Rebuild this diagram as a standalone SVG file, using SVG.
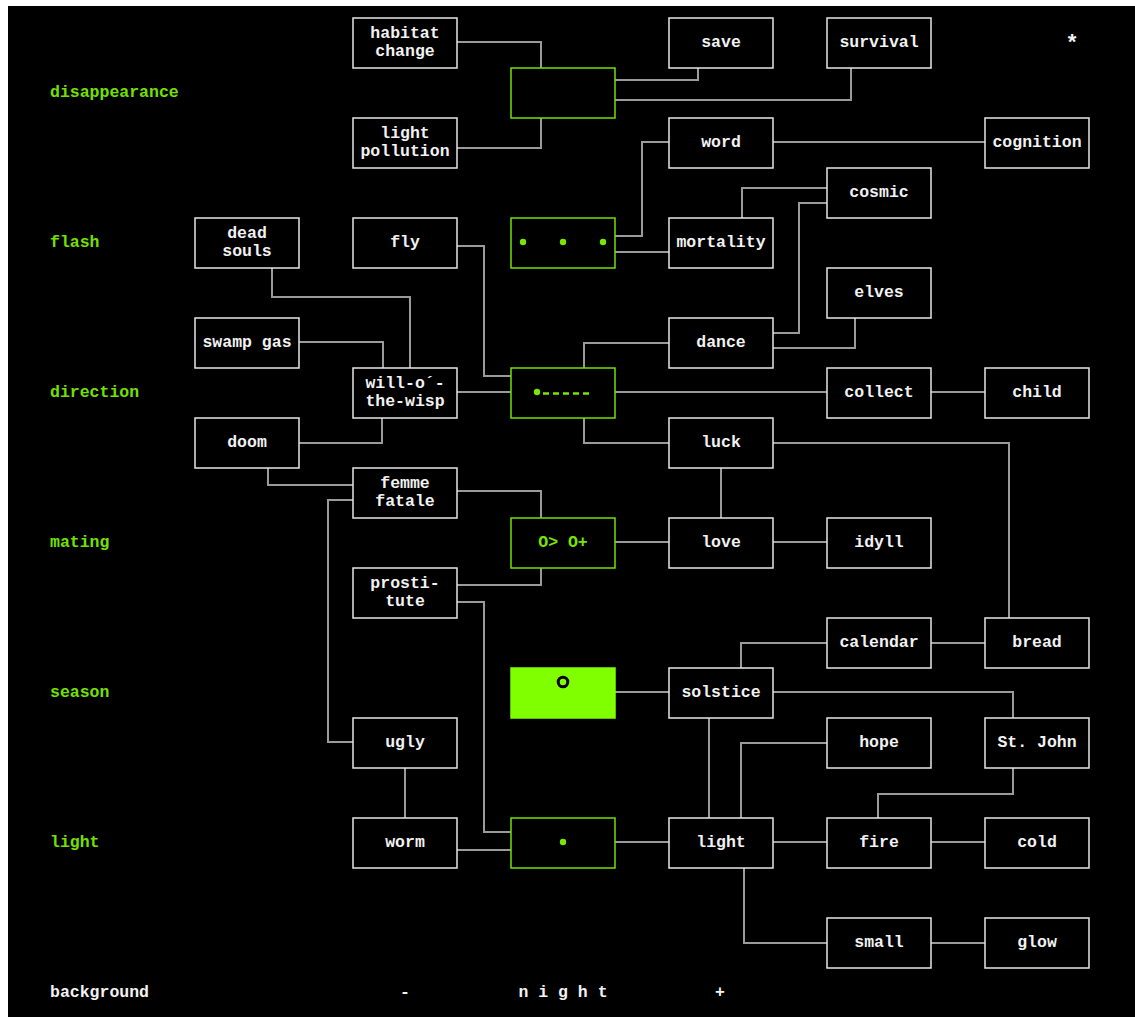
<svg xmlns="http://www.w3.org/2000/svg" width="1135" height="1017" viewBox="0 0 1135 1017">
<style>
.bg{fill:#000}
.n rect{fill:#000;stroke:#e6e6e6;stroke-width:1.5}
.g rect{fill:#000;stroke:#74e000;stroke-width:1.5}
.gf rect{fill:#7fff00;stroke:#7fff00;stroke-width:1.5}
text{font-family:"Liberation Mono","Courier New",monospace;font-weight:bold;font-size:16.5px;text-anchor:middle}
.n text{fill:#f2f2f2}
.g text{fill:#78e600}
.lab{fill:#74e000;text-anchor:start}
.wl{fill:#f2f2f2}
#connectors path{fill:none;stroke:#9a9a9a;stroke-width:2}
</style>
<rect x="0" y="0" width="1135" height="1017" fill="#fff"/>
<rect class="bg" x="8" y="6" width="1127" height="1011"/>

<g id="connectors">
<path d="M457 42H541V68"/>
<path d="M457 148H541V118"/>
<path d="M615 80H698V68"/>
<path d="M615 100H851V68"/>
<path d="M773 142H985"/>
<path d="M615 236H642V142H669"/>
<path d="M615 252H669"/>
<path d="M742 218V188H827"/>
<path d="M827 203H799V333H773"/>
<path d="M855 318V348H773"/>
<path d="M669 343H584V368"/>
<path d="M457 246H484V376H511"/>
<path d="M457 392H511"/>
<path d="M615 392H827"/>
<path d="M931 392H985"/>
<path d="M584 418V443H669"/>
<path d="M773 443H1009V618"/>
<path d="M721 468V518"/>
<path d="M272 268V297H410V368"/>
<path d="M299 342H383V368"/>
<path d="M299 443H382V418"/>
<path d="M268 468V485H353"/>
<path d="M457 491H541V518"/>
<path d="M457 585H541V568"/>
<path d="M615 542H669"/>
<path d="M773 542H827"/>
<path d="M353 500H328V742H353"/>
<path d="M457 602H484V832H511"/>
<path d="M405 768V818"/>
<path d="M457 850H511"/>
<path d="M615 842H669"/>
<path d="M615 692H669"/>
<path d="M741 668V643H827"/>
<path d="M931 643H985"/>
<path d="M773 692H1013V718"/>
<path d="M709 718V818"/>
<path d="M741 818V743H827"/>
<path d="M1013 768V794H878V818"/>
<path d="M773 842H827"/>
<path d="M931 842H985"/>
<path d="M744 868V943H827"/>
<path d="M931 943H985"/>
</g>

<g id="labels">
<text class="lab" x="50" y="97">disappearance</text>
<text class="lab" x="50" y="247">flash</text>
<text class="lab" x="50" y="397">direction</text>
<text class="lab" x="50" y="547">mating</text>
<text class="lab" x="50" y="697">season</text>
<text class="lab" x="50" y="847">light</text>
<text class="wl" x="50" y="997" style="text-anchor:start">background</text>
<text class="wl" x="405" y="997">-</text>
<text class="wl" x="563" y="997">n i g h t</text>
<text class="wl" x="720" y="997">+</text>
<text class="wl" x="1072" y="50" style="font-size:22px">*</text>
</g>

<g id="habitat-change" class="n"><rect x="353" y="18" width="104" height="50"/><text x="405" y="38">habitat</text><text x="405" y="56">change</text></g>
<g id="light-pollution" class="n"><rect x="353" y="118" width="104" height="50"/><text x="405" y="138">light</text><text x="405" y="156">pollution</text></g>
<g id="disappearance-box" class="g"><rect x="511" y="68" width="104" height="50"/></g>
<g id="save" class="n"><rect x="669" y="18" width="104" height="50"/><text x="721" y="47">save</text></g>
<g id="survival" class="n"><rect x="827" y="18" width="104" height="50"/><text x="879" y="47">survival</text></g>
<g id="word" class="n"><rect x="669" y="118" width="104" height="50"/><text x="721" y="147">word</text></g>
<g id="cognition" class="n"><rect x="985" y="118" width="104" height="50"/><text x="1037" y="147">cognition</text></g>
<g id="cosmic" class="n"><rect x="827" y="168" width="104" height="50"/><text x="879" y="197">cosmic</text></g>
<g id="dead-souls" class="n"><rect x="195" y="218" width="104" height="50"/><text x="247" y="238">dead</text><text x="247" y="256">souls</text></g>
<g id="fly" class="n"><rect x="353" y="218" width="104" height="50"/><text x="405" y="247">fly</text></g>
<g id="flash-box" class="g"><rect x="511" y="218" width="104" height="50"/><circle cx="523" cy="242" r="3.2" fill="#78e600"/><circle cx="563" cy="242" r="3.2" fill="#78e600"/><circle cx="603" cy="242" r="3.2" fill="#78e600"/></g>
<g id="mortality" class="n"><rect x="669" y="218" width="104" height="50"/><text x="721" y="247">mortality</text></g>
<g id="elves" class="n"><rect x="827" y="268" width="104" height="50"/><text x="879" y="297">elves</text></g>
<g id="swamp-gas" class="n"><rect x="195" y="318" width="104" height="50"/><text x="247" y="347">swamp gas</text></g>
<g id="dance" class="n"><rect x="669" y="318" width="104" height="50"/><text x="721" y="347">dance</text></g>
<g id="will-o-the-wisp" class="n"><rect x="353" y="368" width="104" height="50"/><text x="405" y="388">will-o´-</text><text x="405" y="406">the-wisp</text></g>
<g id="direction-box" class="g"><rect x="511" y="368" width="104" height="50"/><circle cx="537" cy="392" r="3.2" fill="#78e600"/><path d="M543 393.5H591" stroke="#78e600" stroke-width="2.5" stroke-dasharray="6 4"/></g>
<g id="collect" class="n"><rect x="827" y="368" width="104" height="50"/><text x="879" y="397">collect</text></g>
<g id="child" class="n"><rect x="985" y="368" width="104" height="50"/><text x="1037" y="397">child</text></g>
<g id="doom" class="n"><rect x="195" y="418" width="104" height="50"/><text x="247" y="447">doom</text></g>
<g id="luck" class="n"><rect x="669" y="418" width="104" height="50"/><text x="721" y="447">luck</text></g>
<g id="femme-fatale" class="n"><rect x="353" y="468" width="104" height="50"/><text x="405" y="488">femme</text><text x="405" y="506">fatale</text></g>
<g id="mating-box" class="g"><rect x="511" y="518" width="104" height="50"/><text x="563" y="547">O&gt; O+</text></g>
<g id="love" class="n"><rect x="669" y="518" width="104" height="50"/><text x="721" y="547">love</text></g>
<g id="idyll" class="n"><rect x="827" y="518" width="104" height="50"/><text x="879" y="547">idyll</text></g>
<g id="prostitute" class="n"><rect x="353" y="568" width="104" height="50"/><text x="405" y="588">prosti-</text><text x="405" y="606">tute</text></g>
<g id="calendar" class="n"><rect x="827" y="618" width="104" height="50"/><text x="879" y="647">calendar</text></g>
<g id="bread" class="n"><rect x="985" y="618" width="104" height="50"/><text x="1037" y="647">bread</text></g>
<g id="season-box" class="gf"><rect x="511" y="668" width="104" height="50"/><circle cx="563" cy="682" r="4.8" fill="none" stroke="#000" stroke-width="3"/></g>
<g id="solstice" class="n"><rect x="669" y="668" width="104" height="50"/><text x="721" y="697">solstice</text></g>
<g id="ugly" class="n"><rect x="353" y="718" width="104" height="50"/><text x="405" y="747">ugly</text></g>
<g id="hope" class="n"><rect x="827" y="718" width="104" height="50"/><text x="879" y="747">hope</text></g>
<g id="st-john" class="n"><rect x="985" y="718" width="104" height="50"/><text x="1037" y="747">St. John</text></g>
<g id="worm" class="n"><rect x="353" y="818" width="104" height="50"/><text x="405" y="847">worm</text></g>
<g id="light-box" class="g"><rect x="511" y="818" width="104" height="50"/><circle cx="563" cy="842" r="3.2" fill="#78e600"/></g>
<g id="light" class="n"><rect x="669" y="818" width="104" height="50"/><text x="721" y="847">light</text></g>
<g id="fire" class="n"><rect x="827" y="818" width="104" height="50"/><text x="879" y="847">fire</text></g>
<g id="cold" class="n"><rect x="985" y="818" width="104" height="50"/><text x="1037" y="847">cold</text></g>
<g id="small" class="n"><rect x="827" y="918" width="104" height="50"/><text x="879" y="947">small</text></g>
<g id="glow" class="n"><rect x="985" y="918" width="104" height="50"/><text x="1037" y="947">glow</text></g>
</svg>
